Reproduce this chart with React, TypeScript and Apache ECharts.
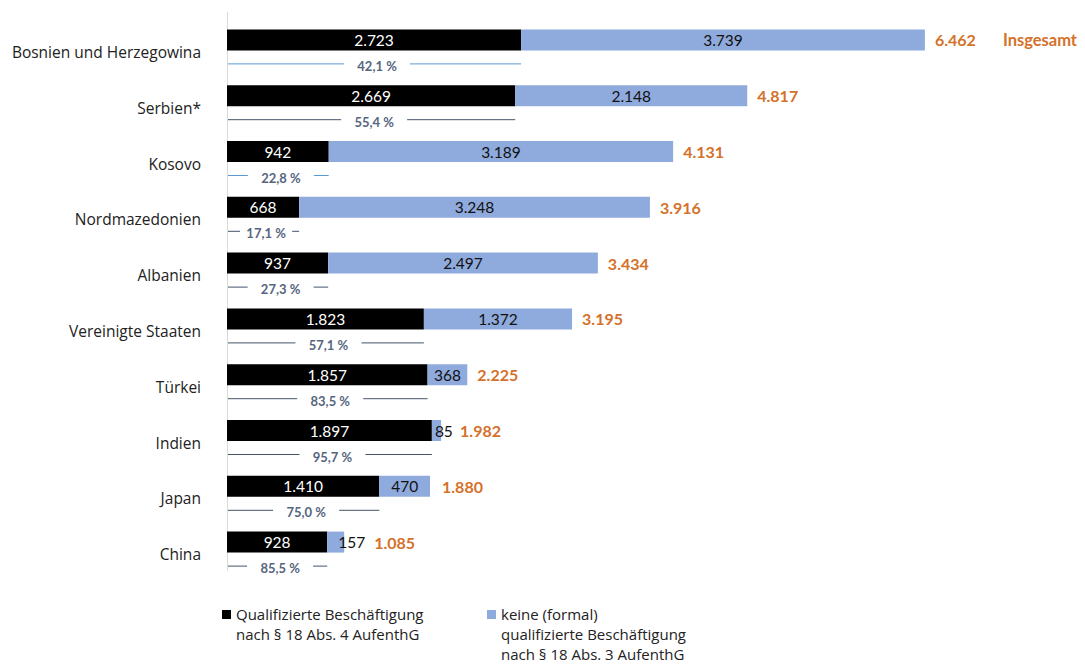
import React, { useEffect, useRef } from "react";
import * as echarts from "echarts";

const categories = [
  "Bosnien und Herzegowina",
  "Serbien*",
  "Kosovo",
  "Nordmazedonien",
  "Albanien",
  "Vereinigte Staaten",
  "Türkei",
  "Indien",
  "Japan",
  "China",
];
const qualified = [2723, 2669, 942, 668, 937, 1823, 1857, 1897, 1410, 928];
const nonQualified = [3739, 2148, 3189, 3248, 2497, 1372, 368, 85, 470, 157];
const totals = [6462, 4817, 4131, 3916, 3434, 3195, 2225, 1982, 1880, 1085];
const shares = [42.1, 55.4, 22.8, 17.1, 27.3, 57.1, 83.5, 95.7, 75.0, 85.5];

const seriesNames = [
  "Qualifizierte Beschäftigung\nnach § 18 Abs. 4 AufenthG",
  "keine (formal)\nqualifizierte Beschäftigung\nnach § 18 Abs. 3 AufenthG",
];
const totalCaption = "Insgesamt";

// styles (not data)
const shareLineColors = ["#5b9bd5", "#44546a", "#5b9bd5", "#44546a", "#44546a", "#44546a", "#44546a", "#44546a", "#44546a", "#44546a"];
const totalLabelGap = [10, 10, 10, 10, 10, 10, 10, 19, 12, 30];

const FONT = "Lato, 'Open Sans', sans-serif";
const LABEL_FONT = "'Open Sans', Lato, sans-serif";
const ORANGE = "#d4712a";
const BLUE = "#8faadc";

function fmt(n: number): string {
  return String(Math.round(n)).replace(/\B(?=(\d{3})+(?!\d))/g, ".");
}
function fmtPct(n: number): string {
  return n.toFixed(1).replace(".", ",") + " %";
}

export default function App() {
  const ref = useRef<HTMLDivElement>(null);
  useEffect(() => {
    if (!ref.current) return;
    const chart = echarts.init(ref.current, null, { renderer: "svg" });
    const nonQualData = nonQualified.map((v, i) => {
      if (i === 7) return { value: v, label: { position: "insideLeft", distance: 3 } };
      if (i === 9) return { value: v, label: { position: "insideLeft", distance: 11 } };
      return v;
    });
    chart.setOption({
      animation: false,
      textStyle: { fontFamily: FONT },
      grid: { left: 227, top: 12, height: 558, width: 756, containLabel: false },
      xAxis: {
        type: "value",
        min: 0,
        max: 7000,
        show: false,
        splitLine: { show: false },
      },
      yAxis: {
        type: "category",
        inverse: true,
        data: categories,
        axisLine: { show: true, lineStyle: { color: "#d9d9d9", width: 1 } },
        axisTick: { show: false },
        axisLabel: {
          margin: 26,
          fontSize: 15.5,
          color: "#222",
          fontFamily: LABEL_FONT,
          verticalAlign: "top",
          lineHeight: 24,
        },
      },
      series: [
        {
          name: seriesNames[0],
          type: "bar",
          stack: "a",
          barWidth: 21,
          data: qualified,
          itemStyle: { color: "#000000" },
          label: {
            show: true,
            position: "inside",
            color: "#ffffff",
            fontSize: 15.5,
            fontFamily: FONT,
            formatter: (p: any) => fmt(p.value),
          },
        },
        {
          name: seriesNames[1],
          type: "bar",
          stack: "a",
          barWidth: 21,
          data: nonQualData,
          itemStyle: { color: BLUE },
          label: {
            show: true,
            position: "inside",
            color: "#111111",
            fontSize: 15.5,
            fontFamily: FONT,
            formatter: (p: any) => fmt(typeof p.value === "number" ? p.value : p.data.value),
          },
        },
        {
          name: "share",
          type: "custom",
          encode: { x: 0, y: 1 },
          data: qualified.map((v, i) => [v, i, shares[i]]),
          renderItem: (params: any, api: any) => {
            const v = api.value(0);
            const idx = api.value(1);
            const i = params.dataIndex;
            const p0 = api.coord([0, idx]);
            const p1 = api.coord([v, idx]);
            const y = p0[1] + 24;
            const halfLen = (p1[0] - p0[0]) / 2;
            const cx = p0[0] + halfLen + 3;
            const hg = Math.min(33, Math.max(24, halfLen - 10));
            const color = shareLineColors[i];
            return {
              type: "group",
              children: [
                {
                  type: "line",
                  shape: { x1: p0[0] + 1, y1: y, x2: cx - hg, y2: y },
                  style: { stroke: color, lineWidth: 1 },
                },
                {
                  type: "line",
                  shape: { x1: cx + hg, y1: y, x2: p1[0], y2: y },
                  style: { stroke: color, lineWidth: 1 },
                },
                {
                  type: "text",
                  x: cx,
                  y: y + 2,
                  style: {
                    text: fmtPct(api.value(2)),
                    align: "center",
                    verticalAlign: "middle",
                    fill: "#56657e",
                    fontSize: 13,
                    fontWeight: "bold",
                    fontFamily: FONT,
                  },
                },
              ],
            };
          },
        },
        {
          name: "total",
          type: "custom",
          encode: { x: 0, y: 1 },
          data: totals.map((v, i) => [v, i]),
          renderItem: (params: any, api: any) => {
            const v = api.value(0);
            const idx = api.value(1);
            const i = params.dataIndex;
            const p = api.coord([v, idx]);
            const x = p[0] + totalLabelGap[i];
            const children: any[] = [
              {
                type: "text",
                x,
                y: p[1],
                style: {
                  text: fmt(v),
                  align: "left",
                  verticalAlign: "middle",
                  fill: ORANGE,
                  fontSize: 16,
                  fontWeight: "bold",
                  fontFamily: FONT,
                },
              },
            ];
            if (i === 0) {
              children.push({
                type: "text",
                x: x + 68,
                y: p[1],
                style: {
                  text: totalCaption,
                  align: "left",
                  verticalAlign: "middle",
                  fill: ORANGE,
                  fontSize: 16.5,
                  fontWeight: "bold",
                  fontFamily: FONT,
                },
              });
            }
            return { type: "group", children };
          },
        },
      ],
      graphic: [
        { type: "rect", shape: { x: 222, y: 610, width: 9, height: 9 }, style: { fill: "#000" } },
        {
          type: "text",
          x: 236,
          y: 604,
          style: { text: seriesNames[0], fontSize: 15, lineHeight: 20, fill: "#222", fontFamily: LABEL_FONT, verticalAlign: "top" },
        },
        { type: "rect", shape: { x: 487, y: 610, width: 9, height: 9 }, style: { fill: BLUE } },
        {
          type: "text",
          x: 501,
          y: 604,
          style: { text: seriesNames[1], fontSize: 15, lineHeight: 20, fill: "#222", fontFamily: LABEL_FONT, verticalAlign: "top" },
        },
      ],
    });
    return () => chart.dispose();
  }, []);
  return (
    <div
      ref={ref}
      style={{ position: "absolute", left: 0, top: 0, width: 1085, height: 665, background: "#fff" }}
    />
  );
}
